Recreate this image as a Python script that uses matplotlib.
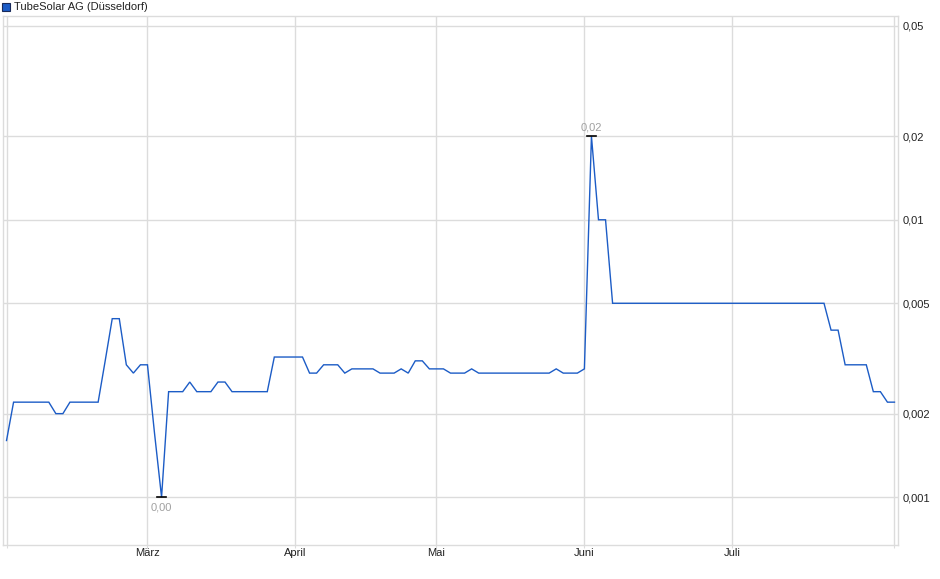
import matplotlib
matplotlib.use("Agg")
import matplotlib.pyplot as plt
from matplotlib.patches import Rectangle
import numpy as np

title = "TubeSolar AG (Düsseldorf)"

# closing prices per trading day (index 0..126)
prices = [
    0.0016,
    0.0022, 0.0022, 0.0022, 0.0022, 0.0022, 0.0022,
    0.0020, 0.0020,
    0.0022, 0.0022, 0.0022, 0.0022, 0.0022,
    0.0031,
    0.0044, 0.0044,
    0.0030, 0.0028, 0.0030, 0.0030,
    0.0017, 0.0010,
    0.0024, 0.0024, 0.0024,
    0.0026,
    0.0024, 0.0024, 0.0024,
    0.0026, 0.0026,
    0.0024, 0.0024, 0.0024, 0.0024, 0.0024, 0.0024,
    0.0032, 0.0032, 0.0032, 0.0032, 0.0032,
    0.0028, 0.0028,
    0.0030, 0.0030, 0.0030,
    0.0028,
    0.0029, 0.0029, 0.0029, 0.0029,
    0.0028, 0.0028, 0.0028,
    0.0029, 0.0028,
    0.0031, 0.0031,
    0.0029, 0.0029, 0.0029,
    0.0028, 0.0028, 0.0028,
    0.0029,
    0.0028, 0.0028, 0.0028, 0.0028, 0.0028, 0.0028, 0.0028, 0.0028, 0.0028, 0.0028, 0.0028,
    0.0029,
    0.0028, 0.0028, 0.0028,
    0.0029,
    0.0200,
    0.0100, 0.0100,
    0.0050, 0.0050, 0.0050, 0.0050, 0.0050, 0.0050, 0.0050, 0.0050, 0.0050, 0.0050,
    0.0050, 0.0050, 0.0050, 0.0050, 0.0050, 0.0050, 0.0050, 0.0050, 0.0050, 0.0050,
    0.0050, 0.0050, 0.0050, 0.0050, 0.0050, 0.0050, 0.0050, 0.0050, 0.0050, 0.0050,
    0.0050,
    0.0040, 0.0040,
    0.0030, 0.0030, 0.0030, 0.0030,
    0.0024, 0.0024,
    0.0022, 0.0022,
]

month_labels = ["März", "April", "Mai", "Juni", "Juli"]
month_pos = [20, 41, 61, 82, 103]
edge_pos = [0, 126]

y_ticks = [0.001, 0.002, 0.005, 0.01, 0.02, 0.05]
y_labels = ["0,001", "0,002", "0,005", "0,01", "0,02", "0,05"]

plt.rcParams['font.family'] = ['Liberation Sans', 'DejaVu Sans']

W, H = 940, 579
fig = plt.figure(figsize=(W / 100, H / 100), dpi=100)
L, R, T, B = 3, 898, 16, 545
ax = fig.add_axes([L / W, 1 - B / H, (R - L) / W, (B - T) / H])

grid_c = "#dcdcdc"
line_c = "#1c5cc6"

x = np.arange(len(prices))
ax.plot(x, prices, color=line_c, lw=1.0, solid_joinstyle="miter", zorder=3)

ax.set_yscale("log")
ax.set_xlim(-0.5, 126.5)
ax.set_ylim(0.000672, 0.0543)

ax.yaxis.tick_right()
ax.set_yticks(y_ticks)
ax.set_yticklabels(y_labels)
ax.yaxis.set_minor_locator(matplotlib.ticker.NullLocator())
ax.tick_params(axis="y", length=0, pad=3, labelsize=8, labelcolor="#222222")

ax.set_xticks(month_pos + edge_pos)
ax.set_xticklabels(month_labels + ["", ""])
ax.tick_params(axis="x", length=2, color=grid_c, pad=0.5, labelsize=8, labelcolor="#222222")

ax.grid(True, color=grid_c, lw=1.0, zorder=0)
for s in ax.spines.values():
    s.set_color(grid_c)
    s.set_linewidth(1.0)

# min / max markers
arr = np.array(prices)
imin, imax = int(np.argmin(arr)), int(np.argmax(arr))
for i, va, off in [(imin, "top", -4), (imax, "bottom", 3)]:
    ax.plot([i - 0.6, i + 0.6], [arr[i], arr[i]], color="black", lw=1.2, zorder=4)
    ax.annotate(f"{arr[i]:.2f}".replace(".", ","), (i, arr[i]), xytext=(0, off),
                textcoords="offset points", ha="center", va=va,
                fontsize=8, color="#a0a0a0")

# title with legend square
fig.patches.append(Rectangle((2 / W, 1 - 11 / H), 8 / W, 8 / H, transform=fig.transFigure,
                             facecolor="#1c5cc6", edgecolor="#1a2a5a", lw=0.8))
fig.text(14 / W, 1 - 7 / H, title, fontsize=8, color="#222222", va="center", ha="left")

fig.savefig("out.png", dpi=100)
